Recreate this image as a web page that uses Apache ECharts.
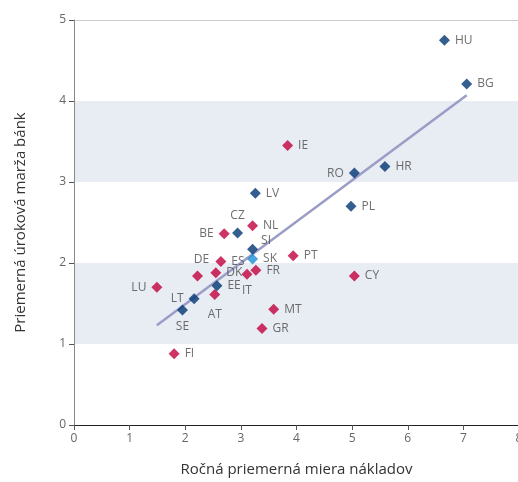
<!DOCTYPE html>
<html><head><meta charset="utf-8">
<script src="https://cdn.jsdelivr.net/npm/echarts@6/dist/echarts.min.js"></script>
<style>html,body{margin:0;padding:0;background:#fff}#c{width:518px;height:482px}</style>
</head><body><div id="c"></div>
<script>
// countries, x = annual average cost rate, y = average bank interest margin
const blueNames = ['HU','BG','RO','HR','LV','PL','CZ','SI','EE','LT','SE'];
const blueX = [6.66, 7.06, 5.04, 5.59, 3.26, 4.98, 2.94, 3.21, 2.57, 2.16, 1.95];
const blueY = [4.75, 4.21, 3.11, 3.19, 2.86, 2.70, 2.37, 2.17, 1.72, 1.56, 1.42];

const redNames = ['IE','NL','BE','PT','ES','DE','DK','FR','IT','LU','AT','MT','GR','CY','FI'];
const redX = [3.84, 3.21, 2.70, 3.94, 2.64, 2.22, 2.55, 3.27, 3.11, 1.49, 2.53, 3.59, 3.38, 5.04, 1.80];
const redY = [3.45, 2.46, 2.36, 2.09, 2.02, 1.84, 1.88, 1.91, 1.86, 1.70, 1.61, 1.43, 1.19, 1.84, 0.88];

const skNames = ['SK'];
const skX = [3.21];
const skY = [2.05];

const trendX = [1.49, 7.06];
const trendY = [1.23, 4.07];

const xTicks = [0,1,2,3,4,5,6,7,8];
const yTicks = [0,1,2,3,4,5];

const labelPos = {
  RO:'left', BE:'left', LU:'left', LT:'left',
  CZ:'top', DE:'top', IT:'bottom', AT:'bottom', SE:'bottom'
};
const labelOffset = { SI:[-2,-9], CZ:[0,-1], DE:[4,0], AT:[0,3] };

function mk(names, xs, ys){
  return names.map((n,i)=>{
    const p = labelPos[n] || 'right';
    const o = {value:[xs[i], ys[i]], name:n, label:{position:p}};
    if (labelOffset[n]) o.label.offset = labelOffset[n];
    return o;
  });
}

const labelStyle = {show:true, formatter:'{b}', color:'#4a4a4a', fontSize:12, fontFamily:'Open Sans', distance:5};

const chart = echarts.init(document.getElementById('c'), null, {renderer:'canvas'});
chart.setOption({
  animation:false,
  grid:{left:74, top:20, width:445, height:405, outerBoundsMode:'none', containLabel:false},
  xAxis:{
    type:'value', min:0, max:8, interval:1,
    name:'Ročná priemerná miera nákladov', nameLocation:'middle', nameGap:37,
    nameTextStyle:{color:'#333', fontSize:15, fontFamily:'Open Sans'},
    axisLine:{show:true, lineStyle:{color:'#222', width:1}},
    axisTick:{show:true, length:5, lineStyle:{color:'#555'}},
    axisLabel:{color:'#666', fontSize:12, fontFamily:'Open Sans', margin:8, formatter:v=>String(v)},
    splitLine:{show:false}
  },
  yAxis:{
    type:'value', min:0, max:5, interval:1,
    name:'Priemerná úroková marža bánk', nameLocation:'middle', nameGap:46,
    nameTextStyle:{color:'#333', fontSize:15, fontFamily:'Open Sans'},
    axisLine:{show:true, lineStyle:{color:'#888', width:1}},
    axisTick:{show:true, length:5, lineStyle:{color:'#555'}},
    axisLabel:{color:'#666', fontSize:12, fontFamily:'Open Sans', margin:8},
    splitLine:{show:true, lineStyle:{color:['rgba(0,0,0,0)','rgba(0,0,0,0)','rgba(0,0,0,0)','rgba(0,0,0,0)','rgba(0,0,0,0)','#ccc'], width:1}},
    splitArea:{show:true, areaStyle:{color:['rgba(255,255,255,0)','#e8ecf3']}}
  },
  series:[
    {type:'line', data:trendX.map((x,i)=>[x,trendY[i]]), symbol:'none', lineStyle:{color:'#9b9dc6', width:2.5}, z:1, silent:true},
    {type:'scatter', data:mk(redNames, redX, redY), symbol:'diamond', symbolSize:11, itemStyle:{color:'#c0003c'}, label:labelStyle, z:3},
    {type:'scatter', data:mk(blueNames, blueX, blueY), symbol:'diamond', symbolSize:11, itemStyle:{color:'#003672'}, label:labelStyle, z:3},
    {type:'scatter', data:mk(skNames, skX, skY), symbol:'diamond', symbolSize:11, itemStyle:{color:'#1a8fd6'}, label:labelStyle, z:4}
  ]
});
</script></body></html>
